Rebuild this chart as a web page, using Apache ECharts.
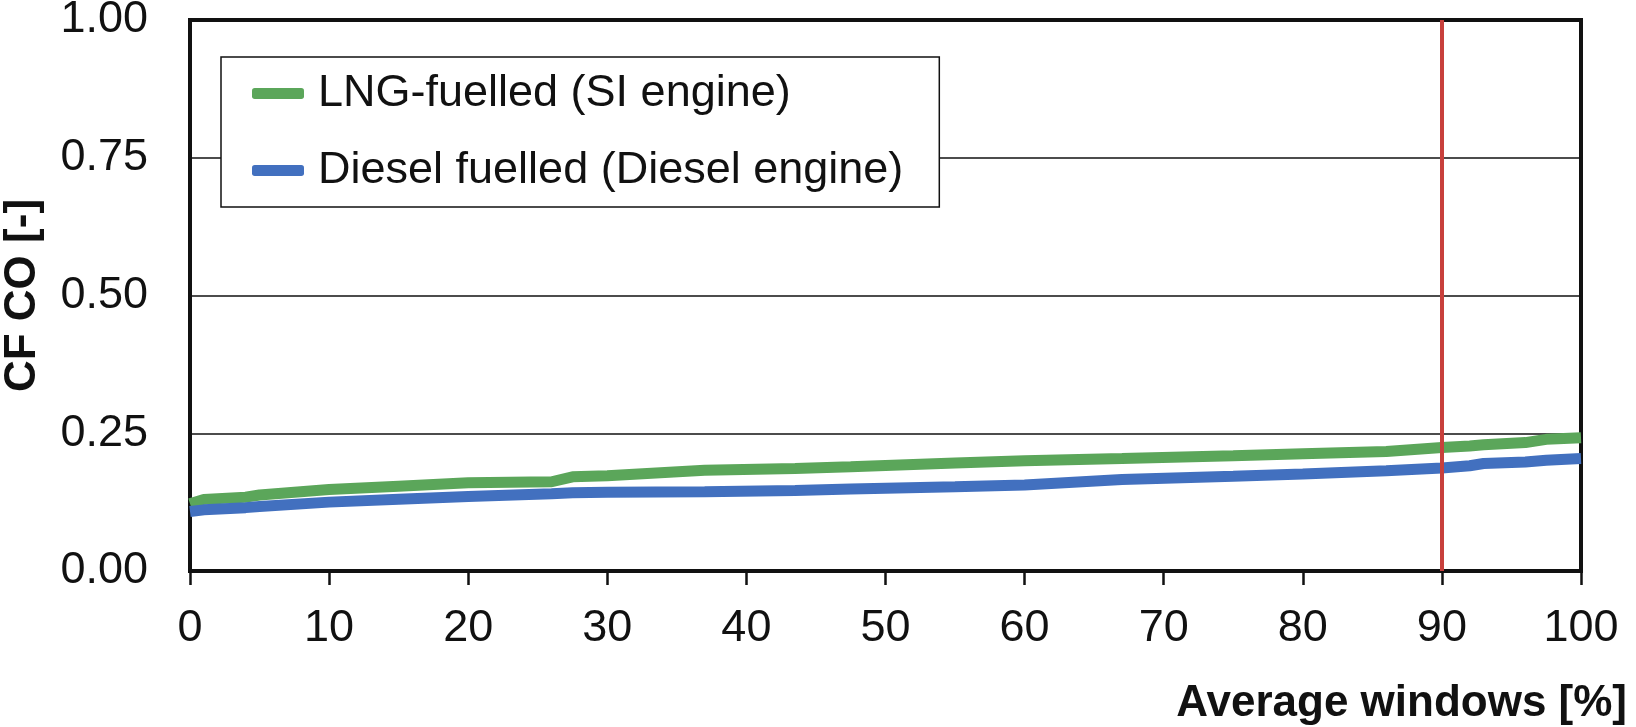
<!DOCTYPE html>
<html lang="en">
<head>
    <meta charset="UTF-8">
    <title>CF CO</title>
    <script src="https://cdn.jsdelivr.net/npm/echarts@6/dist/echarts.min.js"></script>
    <style>
        html, body { margin: 0; padding: 0; background: #fff; }
    </style>
</head>
<body>
    <div id="main" style="width: 1636px;height: 727px"></div>
    <script type="text/javascript">
        // averaging windows [%] where the curves were read
        var windowsPct = [0, 1, 4, 5, 10, 15, 20, 26, 27.5, 30, 37, 43.5, 47.5, 55, 60, 67, 75, 80, 86, 90, 92, 93, 96, 97.5, 100];
        var lngValues = [0.122, 0.130, 0.134, 0.138, 0.148, 0.154, 0.160, 0.162, 0.171, 0.173, 0.183, 0.186, 0.189, 0.196, 0.200, 0.204, 0.209, 0.213, 0.217, 0.224, 0.227, 0.229, 0.233, 0.239, 0.242];
        var dieselValues = [0.108, 0.111, 0.115, 0.117, 0.125, 0.130, 0.135, 0.140, 0.142, 0.143, 0.144, 0.146, 0.149, 0.153, 0.156, 0.166, 0.172, 0.176, 0.182, 0.187, 0.191, 0.195, 0.198, 0.201, 0.204];
        var seriesNames = ['LNG-fuelled (SI engine)', 'Diesel fuelled (Diesel engine)'];
        var markX = 90;

        function pairs(xs, ys) {
            var out = [];
            for (var i = 0; i < xs.length; i++) out.push([xs[i], ys[i]]);
            return out;
        }

        var font = 'Liberation Sans';
        var myChart = echarts.init(document.getElementById('main'));
        var option = {
            animation: false,
            grid: {
                left: 190, right: 55, top: 20, bottom: 156,
                outerBoundsMode: 'none',
                containLabel: false,
                show: true, borderColor: '#111', borderWidth: 4
            },
            legend: {
                left: 221, top: 57,
                orient: 'vertical',
                backgroundColor: '#fff',
                borderColor: '#111', borderWidth: 1.5,
                padding: [14, 36, 14, 31],
                itemGap: 32,
                itemWidth: 52, itemHeight: 11,
                icon: 'roundRect',
                textStyle: { fontFamily: font, fontSize: 45, color: '#111', lineHeight: 45, padding: [0, 0, 0, 9] },
                data: seriesNames
            },
            xAxis: {
                type: 'value', min: 0, max: 100, interval: 10,
                name: 'Average windows [%]',
                nameLocation: 'end', nameGap: 46,
                nameTextStyle: { fontFamily: font, fontSize: 44, fontWeight: 'bold', color: '#111', align: 'right', verticalAlign: 'top', padding: [111, 0, 0, 0] },
                axisLine: { lineStyle: { color: '#111', width: 4 } },
                axisTick: { show: true, length: 14, lineStyle: { color: '#111', width: 2.5 } },
                axisLabel: { fontFamily: font, fontSize: 45, color: '#111', margin: 35 },
                splitLine: { show: false }
            },
            yAxis: {
                type: 'value', min: 0, max: 1, interval: 0.25,
                name: 'CF CO [-]',
                nameLocation: 'middle', nameGap: 145,
                nameTextStyle: { fontFamily: font, fontSize: 44, fontWeight: 'bold', color: '#111' },
                axisLine: { show: true, lineStyle: { color: '#111', width: 4 } },
                axisTick: { show: false },
                axisLabel: { fontFamily: font, fontSize: 45, color: '#111', margin: 42, formatter: function (v) { return v.toFixed(2); } },
                splitLine: { lineStyle: { color: '#111', width: 1.5 } }
            },
            series: [{
                name: seriesNames[0],
                type: 'line',
                data: pairs(windowsPct, lngValues),
                showSymbol: false,
                itemStyle: { color: '#5ba65a' },
                lineStyle: { color: '#5ba65a', width: 11 },
                markLine: {
                    silent: true,
                    symbol: 'none',
                    label: { show: false },
                    lineStyle: { color: '#c8403c', width: 4, type: 'solid' },
                    data: [{ xAxis: markX }]
                }
            }, {
                name: seriesNames[1],
                type: 'line',
                data: pairs(windowsPct, dieselValues),
                showSymbol: false,
                itemStyle: { color: '#4270bf' },
                lineStyle: { color: '#4270bf', width: 11 }
            }]
        };
        myChart.setOption(option);
    </script>
</body>
</html>
